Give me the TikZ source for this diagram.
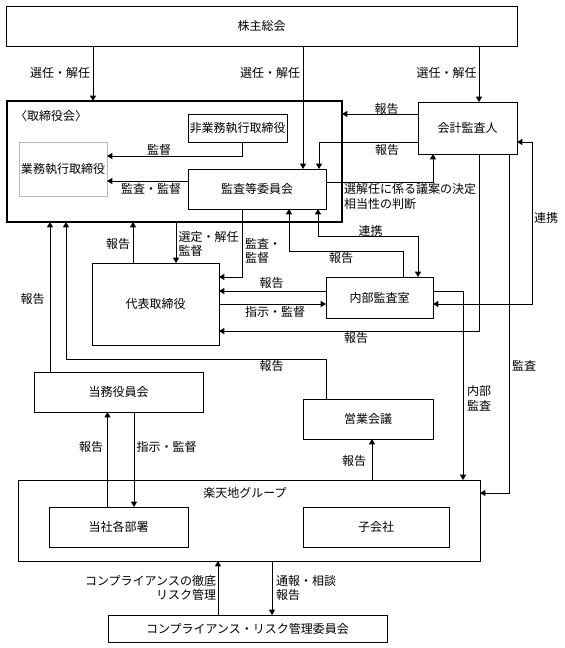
\documentclass[tikz,border=0pt]{standalone}
\usepackage{fontspec}
\setmainfont{Noto Sans CJK JP}
\usetikzlibrary{arrows.meta}
\begin{document}
\begin{tikzpicture}[x=0.75pt,y=-0.75pt,
  every node/.style={font=\fontsize{9}{11}\selectfont, inner sep=0pt, outer sep=0pt},
  box/.style={draw, line width=0.7pt},
  sz/.style 2 args={minimum width=#1*0.75pt, minimum height=#2*0.75pt},
  ln/.style={line width=0.7pt},
  arr/.style={ln, -{Triangle[length=4pt,width=4.5pt]}},
  darr/.style={ln, {Triangle[length=4pt,width=4.5pt]}-{Triangle[length=4pt,width=4.5pt]}}]
\useasboundingbox (0,0) rectangle (564,648);

% boxes
\node[box,sz={511}{40}] (kabu) at (261.5,26) {株主総会};
\node[draw, line width=1.8pt, sz={335}{121}] (board) at (174.5,161.5) {};
\node (boardlbl) at (51,116) {〈取締役会〉};
\node[box,sz={99}{28}] (hi) at (237.5,128) {非業務執行取締役};
\node[draw=gray!55, line width=0.7pt, sz={88}{54}] (gyomu) at (63,169) {業務執行取締役};
\node[box,sz={138}{40}] (kansa) at (257,189) {監査等委員会};
\node[box,sz={99}{52}] (kaikei) at (467.5,128) {会計監査人};
\node[box,sz={127}{82}] (daihyo) at (155.5,304) {代表取締役};
\node[box,sz={107}{41}] (naibu) at (379.5,297.5) {内部監査室};
\node[box,sz={169}{40}] (toumu) at (118.5,392) {当務役員会};
\node[box,sz={130}{40}] (eigyo) at (368,419) {営業会議};
\node[box,sz={461.5}{81}] (group) at (249.25,520.5) {};
\node (grouplbl) at (245,493) {楽天地グループ};
\node[box,sz={139}{40}] (busho) at (118.5,527) {当社各部署};
\node[box,sz={146}{40}] (kogaisha) at (376,527) {子会社};
\node[box,sz={279}{27}] (comp) at (247.5,628.5) {コンプライアンス・リスク管理委員会};

% connectors
\draw[arr] (93,0 |- kabu.south) -- (93,0 |- board.north);
\node (l1) at (60,73) {選任・解任};
\draw[arr] (303,0 |- kabu.south) -- (303,0 |- kansa.north);
\node (l2) at (270,73) {選任・解任};
\draw[arr] (479,0 |- kabu.south) -- (479,0 |- kaikei.north);
\node (l3) at (446.5,73) {選任・解任};

\draw[arr] (242,0 |- hi.south) |- (gyomu.east |- 0,156);
\node (l4) at (159,150) {監督};
\draw[arr] (kansa.west |- 0,181) -- (gyomu.east |- 0,181);
\node (l5) at (151,189) {監査・監督};

\draw[arr] (kaikei.west |- 0,114) -- (board.east |- 0,114);
\node (l6) at (386.5,109) {報告};
\draw[arr] (kaikei.west |- 0,142) -| (319,0 |- kansa.north);
\node (l7) at (387,150) {報告};
\draw[arr] (kansa.east |- 0,182) -| (433,0 |- kaikei.south);
\node[anchor=west, align=left] (l8) at (344,196.5) {選解任に係る議案の決定\\相当性の判断};

\draw[arr] (133,0 |- daihyo.north) -- (133,0 |- board.south);
\node (l9) at (118,244) {報告};
\draw[arr] (176,0 |- board.south) -- (176,0 |- daihyo.north);
\node[anchor=west, align=left] (l10) at (178.5,244) {選定・解任\\監督};
\draw[arr] (242,0 |- kansa.south) |- (daihyo.east |- 0,277);
\node[anchor=west, align=left] (l11) at (245,251) {監査・\\監督};

\draw[arr] (naibu.west |- 0,291) -- (daihyo.east |- 0,291);
\node (l12) at (271.7,283) {報告};
\draw[arr] (daihyo.east |- 0,304) -- (naibu.west |- 0,304);
\node (l13) at (275,312) {指示・監督};
\draw[arr] (479,0 |- kaikei.south) |- (daihyo.east |- 0,331);
\node (l14) at (356,338) {報告};

\draw[darr] (318,0 |- kansa.south) |- (418,236) -- (418,0 |- naibu.north);
\node (l15) at (370.5,230.5) {連携};
\draw[arr] (403,0 |- naibu.north) |- (289,251) -- (289,0 |- kansa.south);
\node (l16) at (341,258.3) {報告};
\draw[darr] (kaikei.east |- 0,142) -| (532,304) -- (naibu.east |- 0,304);
\node (l17) at (546,218) {連携};

\draw[arr] (naibu.east |- 0,291) -| (463,0 |- group.north);
\node[anchor=west, align=left] (l18) at (467,398.5) {内部\\監査};
\draw[arr] (509,0 |- kaikei.south) |- (group.east |- 0,493);
\node[anchor=west] (l19) at (512,366) {監査};

\draw[arr] (50,0 |- toumu.north) -- (50,0 |- board.south);
\node (l20) at (32.5,299) {報告};
\draw[arr] (326,0 |- eigyo.north) |- (66,359) -- (66,0 |- board.south);
\node (l21) at (271.5,366) {報告};

\draw[arr] (107.5,0 |- busho.north) -- (107.5,0 |- toumu.south);
\node (l22) at (91,446.7) {報告};
\draw[arr] (134,0 |- toumu.south) -- (134,0 |- busho.north);
\node (l23) at (166.7,447) {指示・監督};
\draw[arr] (372,0 |- group.north) -- (372,0 |- eigyo.south);
\node (l24) at (354,460.7) {報告};

\draw[arr] (218,0 |- comp.north) -- (218,0 |- group.south);
\node[anchor=east, align=right] (l25) at (216,588) {コンプライアンスの徹底\\リスク管理};
\draw[arr] (272,0 |- group.south) -- (272,0 |- comp.north);
\node[anchor=west, align=left] (l26) at (276,588) {通報・相談\\報告};
\end{tikzpicture}
\end{document}
